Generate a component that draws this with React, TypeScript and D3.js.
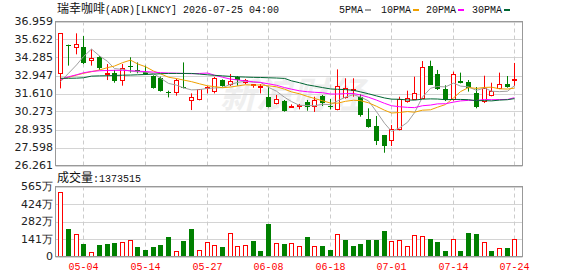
import * as d3 from "d3";

// trading days shown (MM-DD, 2026)
const dates = [
  "04-29", "04-30", "05-01", "05-04", "05-05", "05-06", "05-07", "05-08", "05-11", "05-12",
  "05-13", "05-14", "05-15", "05-18", "05-19", "05-20", "05-21", "05-22", "05-26", "05-27",
  "05-28", "05-29", "06-01", "06-02", "06-03", "06-04", "06-05", "06-08", "06-09", "06-10",
  "06-11", "06-12", "06-15", "06-16", "06-17", "06-18", "06-22", "06-23", "06-24", "06-25",
  "06-26", "06-29", "06-30", "07-01", "07-02", "07-06", "07-07", "07-08", "07-09", "07-10",
  "07-13", "07-14", "07-15", "07-16", "07-17", "07-20", "07-21", "07-22", "07-23", "07-24",
];
const dateTicks = ["05-04", "05-14", "05-27", "06-08", "06-18", "07-01", "07-14", "07-24"];

const open = [
  33.03, 35.24, 34.97, 35.04, 34.0, 34.3, 33.05, 33.11, 32.51, 33.65,
  33.36, 33.18, 32.91, 32.74, 31.75, 31.62, 32.12, 31.03, 31.1, 31.99,
  31.7, 32.61, 32.22, 32.81, 32.36, 32.22, 32.12, 31.32, 30.8, 31.05,
  30.58, 30.73, 31.0, 30.58, 31.42, 30.71, 30.36, 31.28, 31.9, 31.37,
  29.71, 29.2, 28.53, 28.06, 28.87, 30.95, 31.13, 31.2, 33.65, 33.06,
  31.94, 31.13, 32.54, 32.44, 31.65, 30.95, 31.4, 31.94, 32.31, 32.51,
];
const high = [
  36.1, 35.24, 36.08, 35.88, 34.89, 34.4, 33.8, 33.36, 33.8, 34.3,
  33.92, 33.68, 32.96, 32.86, 31.82, 32.71, 33.92, 31.62, 31.94, 32.17,
  32.84, 32.66, 33.06, 32.91, 32.69, 32.31, 32.31, 32.12, 31.5, 31.13,
  30.8, 30.83, 31.13, 31.37, 31.5, 31.2, 33.4, 32.74, 32.74, 31.55,
  30.51, 29.94, 28.53, 29.27, 31.37, 31.82, 32.86, 34.02, 34.05, 33.36,
  32.22, 33.23, 33.16, 32.61, 32.09, 32.93, 32.41, 33.16, 32.91, 33.88,
];
const low = [
  31.99, 33.68, 34.52, 33.8, 33.68, 33.36, 32.61, 32.41, 32.19, 33.16,
  33.11, 32.98, 31.97, 31.75, 31.32, 31.45, 31.99, 30.38, 31.1, 31.62,
  31.62, 32.12, 32.17, 32.19, 32.31, 32.04, 31.62, 30.58, 30.8, 30.26,
  30.56, 30.43, 30.33, 30.24, 30.68, 30.43, 30.36, 31.23, 31.37, 29.89,
  29.07, 27.78, 27.21, 27.71, 28.87, 30.93, 31.13, 31.2, 32.27, 31.87,
  31.05, 31.08, 32.36, 31.75, 30.51, 30.9, 31.4, 31.94, 32.04, 32.17,
];
const close = [
  36.08, 35.14, 35.26, 33.85, 34.22, 33.53, 33.15, 32.56, 33.53, 33.58,
  33.28, 33.03, 32.04, 31.82, 31.65, 32.59, 32.04, 31.32, 31.92, 32.09,
  32.74, 32.19, 32.51, 32.58, 32.61, 32.29, 32.19, 30.63, 31.2, 30.33,
  30.71, 30.78, 30.58, 31.1, 30.88, 30.58, 32.14, 31.99, 31.95, 30.04,
  29.15, 28.11, 27.71, 29.0, 31.22, 31.27, 31.65, 33.55, 32.27, 31.94,
  31.1, 33.06, 32.41, 31.99, 30.63, 32.04, 31.82, 32.29, 32.12, 32.66,
];
// 成交量, shares
const volume = [
  5220000, 2260000, 1830000, 970000, 380000, 890000, 970000, 1050000, 1180000, 1350000,
  730000, 560000, 730000, 890000, 1610000, 460000, 1290000, 2180000, 540000, 1180000,
  940000, 730000, 1910000, 810000, 890000, 1290000, 480000, 2660000, 1100000, 970000,
  1100000, 810000, 1610000, 810000, 810000, 560000, 1830000, 1370000, 810000, 970000,
  1370000, 1370000, 2020000, 1270000, 1350000, 810000, 1750000, 1670000, 1450000, 1210000,
  480000, 1430000, 480000, 1860000, 1780000, 1180000, 480000, 700000, 650000, 1373515,
];

const ma5 = [
  32.49, 33.11, 33.73, 34.35, 34.91, 34.4, 34.0, 33.46, 33.4, 33.27,
  33.22, 33.2, 33.09, 32.75, 32.36, 32.23, 32.03, 31.88, 31.9, 31.99,
  32.02, 32.05, 32.29, 32.43, 32.53, 32.44, 32.44, 32.07, 31.78, 31.33,
  31.01, 30.73, 30.72, 30.7, 30.81, 30.78, 31.06, 31.34, 31.52, 31.35,
  31.06, 30.26, 29.4, 28.8, 29.05, 29.47, 30.18, 31.35, 32.0, 32.13,
  32.1, 32.38, 32.16, 32.1, 31.84, 32.03, 31.78, 31.75, 31.78, 32.19,
];
const ma10 = [
  32.66, 32.81, 32.98, 33.11, 33.23, 33.36, 33.53, 33.65, 33.9, 34.09,
  33.81, 33.6, 33.28, 33.07, 32.82, 32.72, 32.61, 32.49, 32.33, 32.18,
  32.12, 32.04, 32.09, 32.17, 32.26, 32.23, 32.25, 32.18, 32.11, 31.93,
  31.73, 31.59, 31.39, 31.24, 31.07, 30.9, 30.89, 31.03, 31.11, 31.08,
  30.92, 30.66, 30.37, 30.16, 30.2, 30.27, 30.22, 30.37, 30.4, 30.59,
  30.79, 31.28, 31.75, 32.05, 31.99, 32.06, 32.08, 31.96, 31.94, 32.01,
];
const ma20 = [
  32.65, 32.85, 33.0, 33.15, 33.25, 33.3, 33.32, 33.33, 33.33, 33.3,
  33.27, 33.24, 33.2, 33.16, 33.13, 33.12, 33.1, 33.08, 33.1, 33.13,
  32.97, 32.82, 32.68, 32.62, 32.54, 32.48, 32.43, 32.33, 32.22, 32.05,
  31.93, 31.81, 31.74, 31.7, 31.67, 31.57, 31.57, 31.6, 31.61, 31.5,
  31.33, 31.12, 30.88, 30.7, 30.63, 30.58, 30.56, 30.7, 30.75, 30.84,
  30.85, 30.97, 31.06, 31.1, 31.09, 31.17, 31.15, 31.16, 31.17, 31.3,
];
const ma30 = [
  32.74, 32.74, 32.75, 32.78, 32.9, 32.92, 32.93, 32.95, 32.97, 32.98,
  33.0, 33.02, 33.05, 33.08, 33.1, 33.1, 33.1, 33.1, 33.05, 33.0,
  32.96, 32.92, 32.88, 32.85, 32.83, 32.81, 32.8, 32.78, 32.76, 32.73,
  32.55, 32.41, 32.25, 32.16, 32.05, 31.95, 31.92, 31.9, 31.85, 31.73,
  31.59, 31.43, 31.28, 31.19, 31.18, 31.13, 31.12, 31.19, 31.21, 31.2,
  31.15, 31.17, 31.17, 31.15, 31.08, 31.08, 31.06, 31.12, 31.15, 31.23,
];

const priceTicks = [36.959, 35.622, 34.285, 32.947, 31.61, 30.273, 28.935, 27.598, 26.261];
const volTicks = [0, 1412500, 2825000, 4237500, 5650000];
const volTickLabels = ["0", "141万", "282万", "424万", "565万"];

const maNames = ["5PMA", "10PMA", "20PMA", "30PMA"];
const maSeries = [ma5, ma10, ma20, ma30];
const maColors = ["#a0a0a0", "#f0a000", "#ff00ff", "#006633"];

const RED = "#ff0000";
const GREEN = "#008000";
const MONO = "'Liberation Mono', 'DejaVu Sans Mono', monospace";
const CJK = "'Noto Sans CJK SC', sans-serif";
const AXIS = "'DejaVu Sans', sans-serif";

export default function App() {
  const width = 578;
  const height = 276;
  const left = 55.5;
  const right = 522.5;
  const priceTop = 21.5;
  const priceBottom = 165.5;
  const volTop = 186.5;
  const volBottom = 256.5;

  const x = d3.scaleBand<string>().domain(dates).range([56.5, 518.2]);
  const cx = (d: string) => Math.round((x(d) ?? 0) + x.bandwidth() / 2);
  const y = d3.scaleLinear().domain([26.261, 36.959]).range([priceBottom, priceTop]);
  const yv = d3.scaleLinear().domain([0, 5650000]).range([volBottom, volTop]);

  const maLine = (vals: number[]) =>
    d3
      .line<number>()
      .x((_, i) => cx(dates[i]) + 0.5)
      .y((v) => y(v))(vals) ?? "";

  const fmt = d3.format(".3f");

  return (
    <svg
      width={width}
      height={height}
      style={{ position: "absolute", left: 0, top: 0, background: "#fff" }}
    >
      {/* title */}
      <text x={57} y={12.5} fill="#111">
        <tspan fontFamily={CJK} fontSize={12}>瑞幸咖啡</tspan>
        <tspan fontFamily={MONO} fontSize={10}>(ADR)[LKNCY] 2026-07-25 04:00</tspan>
      </text>

      {/* legend */}
      {maNames.map((name, k) => {
        const lx = [339, 381, 426, 472][k];
        return (
          <g key={name}>
            <text x={lx} y={12.5} fontFamily={MONO} fontSize={10} fill="#111">
              {name}
            </text>
            <rect x={lx + name.length * 6 + 2} y={9} width={6} height={2} fill={maColors[k]} />
          </g>
        );
      })}

      {/* watermark */}
      <text
        x={292}
        y={108}
        textAnchor="middle"
        fontFamily={CJK}
        fontSize={36}
        fontWeight="bold"
        fontStyle="italic"
        fill="#efefef"
      >
        新浪财经
      </text>

      {/* price grid */}
      {priceTicks.map((t) => (
        <g key={t}>
          <line x1={left} x2={right} y1={Math.round(y(t)) + 0.5} y2={Math.round(y(t)) + 0.5} stroke="#d4d4d4" />
          <text
            x={53}
            y={y(t)}
            dy="0.36em"
            textAnchor="end"
            fontFamily={AXIS}
            fontSize={11}
            fill="#222"
          >
            {fmt(t)}
          </text>
        </g>
      ))}
      {/* volume grid */}
      {volTicks.map((t, k) => (
        <g key={t}>
          <line x1={left} x2={right} y1={Math.round(yv(t)) + 0.5} y2={Math.round(yv(t)) + 0.5} stroke="#d4d4d4" />
          <text
            x={53}
            y={yv(t)}
            dy="0.36em"
            textAnchor="end"
            fontFamily={AXIS}
            fontSize={11}
            fill="#222"
          >
            {volTickLabels[k]}
          </text>
        </g>
      ))}
      {dateTicks.map((d) => (
        <g key={d}>
          <line x1={cx(d) + 0.5} x2={cx(d) + 0.5} y1={priceTop} y2={priceBottom} stroke="#cccccc" strokeDasharray="4,3" />
          <line x1={cx(d) + 0.5} x2={cx(d) + 0.5} y1={volTop} y2={volBottom} stroke="#cccccc" strokeDasharray="4,3" />
          <text x={cx(d) + 0.5} y={270} textAnchor="middle" fontFamily={MONO} fontSize={10} fill={RED}>
            {d}
          </text>
        </g>
      ))}

      {/* candles */}
      {dates.map((d, i) => {
        const c = cx(d);
        const up = close[i] >= open[i];
        const top = Math.round(y(Math.max(open[i], close[i])));
        const bot = Math.max(Math.round(y(Math.min(open[i], close[i]))), top + 1);
        const color = up ? RED : GREEN;
        return (
          <g key={d}>
            <line x1={c + 0.5} x2={c + 0.5} y1={y(high[i])} y2={y(low[i])} stroke={color} />
            {up ? (
              <rect x={c - 1.5} y={top + 0.5} width={4} height={Math.max(bot - top - 1, 1)} fill="#fff" stroke={color} />
            ) : (
              <rect x={c - 2} y={top} width={5} height={bot - top} fill={color} />
            )}
          </g>
        );
      })}

      {/* moving averages */}
      {maSeries.map((vals, k) => (
        <path key={maNames[k]} d={maLine(vals)} fill="none" stroke={maColors[k]} strokeWidth={1} />
      ))}

      {/* volume */}
      <text x={57} y={182} fill="#111">
        <tspan fontFamily={CJK} fontSize={12}>成交量</tspan>
        <tspan fontFamily={MONO} fontSize={10}>:{volume[volume.length - 1]}</tspan>
      </text>
      {dates.map((d, i) => {
        const c = cx(d);
        const up = i === 0 || close[i] >= close[i - 1];
        const top = Math.round(yv(volume[i]));
        const bot = Math.round(volBottom);
        return up ? (
          <rect key={d} x={c - 1.5} y={top + 0.5} width={4} height={bot - top - 1} fill="#fff" stroke={RED} />
        ) : (
          <rect key={d} x={c - 2} y={top} width={5} height={bot - top} fill={GREEN} />
        );
      })}

      {/* frames */}
      <rect x={left} y={priceTop} width={right - left} height={priceBottom - priceTop} fill="none" stroke="#999" />
      <rect x={left} y={volTop} width={right - left} height={volBottom - volTop} fill="none" stroke="#999" />
    </svg>
  );
}
